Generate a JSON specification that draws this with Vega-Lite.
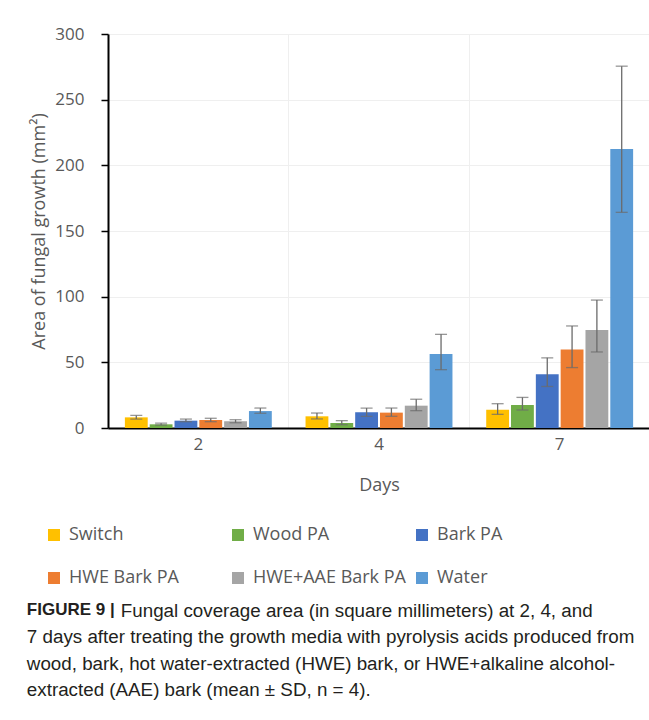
{
  "$schema": "https://vega.github.io/schema/vega-lite/v6.json",
  "padding": {"left": 26, "top": 25, "right": 0, "bottom": 0},
  "background": "white",
  "width": 542,
  "height": 394,
  "config": {
    "view": {"stroke": null},
    "font": "Open Sans"
  },
  "title": {
    "text": "FIGURE 9 |",
    "orient": "bottom",
    "anchor": "start",
    "frame": "bounds",
    "offset": 15,
    "dx": -4,
    "font": "Liberation Sans",
    "fontSize": 17,
    "fontWeight": "bold",
    "color": "#231f20",
    "subtitle": [
      "\u200b\u00a0\u00a0\u00a0\u00a0\u00a0\u00a0\u00a0\u00a0\u00a0\u00a0\u00a0\u00a0\u00a0\u00a0\u00a0\u00a0\u00a0\u00a0Fungal coverage area (in square millimeters) at 2, 4, and",
      "7 days after treating the growth media with pyrolysis acids produced from",
      "wood, bark, hot water-extracted (HWE) bark, or HWE+alkaline alcohol-",
      "extracted (AAE) bark (mean ± SD, n = 4)."
    ],
    "subtitleFont": "Liberation Sans",
    "subtitleFontSize": 18.8,
    "subtitleColor": "#231f20",
    "subtitleLineHeight": 26.5,
    "subtitlePadding": -17.5
  },
  "data": {
    "values": [
      {"day": "2", "series": "Switch", "mean": 8.1, "lo": 6.8, "hi": 9.6},
      {"day": "2", "series": "Wood PA", "mean": 2.8, "lo": 2.2, "hi": 3.7},
      {"day": "2", "series": "Bark PA", "mean": 5.6, "lo": 4.8, "hi": 6.8},
      {"day": "2", "series": "HWE Bark PA", "mean": 6.1, "lo": 4.8, "hi": 7.4},
      {"day": "2", "series": "HWE+AAE Bark PA", "mean": 5.1, "lo": 4.0, "hi": 6.3},
      {"day": "2", "series": "Water", "mean": 12.9, "lo": 11.2, "hi": 15.2},
      {"day": "4", "series": "Switch", "mean": 8.9, "lo": 6.9, "hi": 11.4},
      {"day": "4", "series": "Wood PA", "mean": 3.8, "lo": 2.5, "hi": 5.6},
      {"day": "4", "series": "Bark PA", "mean": 12.0, "lo": 8.9, "hi": 15.2},
      {"day": "4", "series": "HWE Bark PA", "mean": 11.7, "lo": 8.9, "hi": 15.2},
      {"day": "4", "series": "HWE+AAE Bark PA", "mean": 17.0, "lo": 13.2, "hi": 21.9},
      {"day": "4", "series": "Water", "mean": 56.3, "lo": 44.4, "hi": 71.3},
      {"day": "7", "series": "Switch", "mean": 13.9, "lo": 10.4, "hi": 18.5},
      {"day": "7", "series": "Wood PA", "mean": 17.5, "lo": 13.7, "hi": 23.3},
      {"day": "7", "series": "Bark PA", "mean": 41.0, "lo": 31.6, "hi": 53.4},
      {"day": "7", "series": "HWE Bark PA", "mean": 59.7, "lo": 46.0, "hi": 77.7},
      {"day": "7", "series": "HWE+AAE Bark PA", "mean": 74.6, "lo": 57.9, "hi": 97.4},
      {"day": "7", "series": "Water", "mean": 212.5, "lo": 164.2, "hi": 275.5}
    ]
  },
  "encoding": {
    "xOffset": {
      "field": "series",
      "type": "nominal",
      "sort": ["Switch", "Wood PA", "Bark PA", "HWE Bark PA", "HWE+AAE Bark PA", "Water"],
      "scale": {"paddingInner": 0.08, "paddingOuter": 0.68}
    }
  },
  "layer": [
    {
      "mark": {"type": "rule", "color": "#6b6b6b", "strokeWidth": 1.3},
      "encoding": {
        "x": {
          "field": "day",
          "type": "nominal",
          "scale": {"paddingInner": 0, "paddingOuter": 0},
          "axis": {
            "orient": "top",
            "bandPosition": 0,
            "grid": true,
            "gridColor": "#efefef",
            "labels": false,
            "ticks": false,
            "domain": false,
            "title": null
          }
        },
        "y": {"field": "lo", "type": "quantitative"},
        "y2": {"field": "hi"},
        "opacity": {"value": 0}
      }
    },
    {
      "mark": {"type": "bar"},
      "encoding": {
        "x": {
          "field": "day",
          "type": "nominal",
          "axis": {
            "title": "Days",
            "labelAngle": 0,
            "labelFontSize": 17,
            "labelColor": "#595959",
            "labelPadding": 8,
            "ticks": false,
            "domainColor": "black",
            "domainWidth": 2,
            "titleFontSize": 18,
            "titleFontWeight": "normal",
            "titleColor": "#595959",
            "titlePadding": 24,
            "grid": false
          }
        },
        "y": {
          "field": "mean",
          "type": "quantitative",
          "scale": {"domain": [0, 300], "nice": false},
          "axis": {
            "title": "Area of fungal growth (mm²)",
            "values": [0, 25, 50, 75, 100, 125, 150, 175, 200, 225, 250, 275, 300],
            "labelExpr": "datum.value % 50 === 0 ? datum.label : ''",
            "labelFontSize": 17,
            "labelColor": "#595959",
            "labelPadding": 17,
            "tickSize": 7,
            "tickColor": "black",
            "tickWidth": 1.5,
            "domainColor": "black",
            "domainWidth": 2,
            "gridColor": "#efefef",
            "gridWidth": 1,
            "titleFontSize": 18,
            "titleFontWeight": "normal",
            "titleColor": "#595959",
            "titlePadding": 6
          }
        },
        "color": {
          "field": "series",
          "type": "nominal",
          "sort": ["Switch", "Wood PA", "Bark PA", "HWE Bark PA", "HWE+AAE Bark PA", "Water"],
          "scale": {
            "domain": ["Switch", "Wood PA", "Bark PA", "HWE Bark PA", "HWE+AAE Bark PA", "Water"],
            "range": ["#FFC000", "#70AD47", "#4472C4", "#ED7D31", "#A5A5A5", "#5B9BD5"]
          },
          "legend": {
            "title": null,
            "orient": "none",
            "legendX": -63,
            "legendY": 492,
            "direction": "horizontal",
            "columns": 3,
            "gridAlign": "all",
            "columnPadding": 7,
            "rowPadding": 25,
            "symbolType": "square",
            "symbolSize": 144,
            "symbolStrokeWidth": 0,
            "labelFontSize": 18,
            "labelColor": "#595959",
            "labelOffset": 6
          }
        }
      }
    },
    {
      "mark": {"type": "rule", "color": "#6b6b6b", "strokeWidth": 1.3},
      "encoding": {
        "x": {"field": "day", "type": "nominal", "axis": null},
        "y": {"field": "lo", "type": "quantitative"},
        "y2": {"field": "hi"}
      }
    },
    {
      "mark": {"type": "tick", "color": "#6b6b6b", "thickness": 1.3, "size": 12},
      "encoding": {
        "x": {"field": "day", "type": "nominal", "axis": null},
        "y": {"field": "lo", "type": "quantitative"}
      }
    },
    {
      "mark": {"type": "tick", "color": "#6b6b6b", "thickness": 1.3, "size": 12},
      "encoding": {
        "x": {"field": "day", "type": "nominal", "axis": null},
        "y": {"field": "hi", "type": "quantitative"}
      }
    }
  ],
  "resolve": {"axis": {"x": "independent"}}
}
